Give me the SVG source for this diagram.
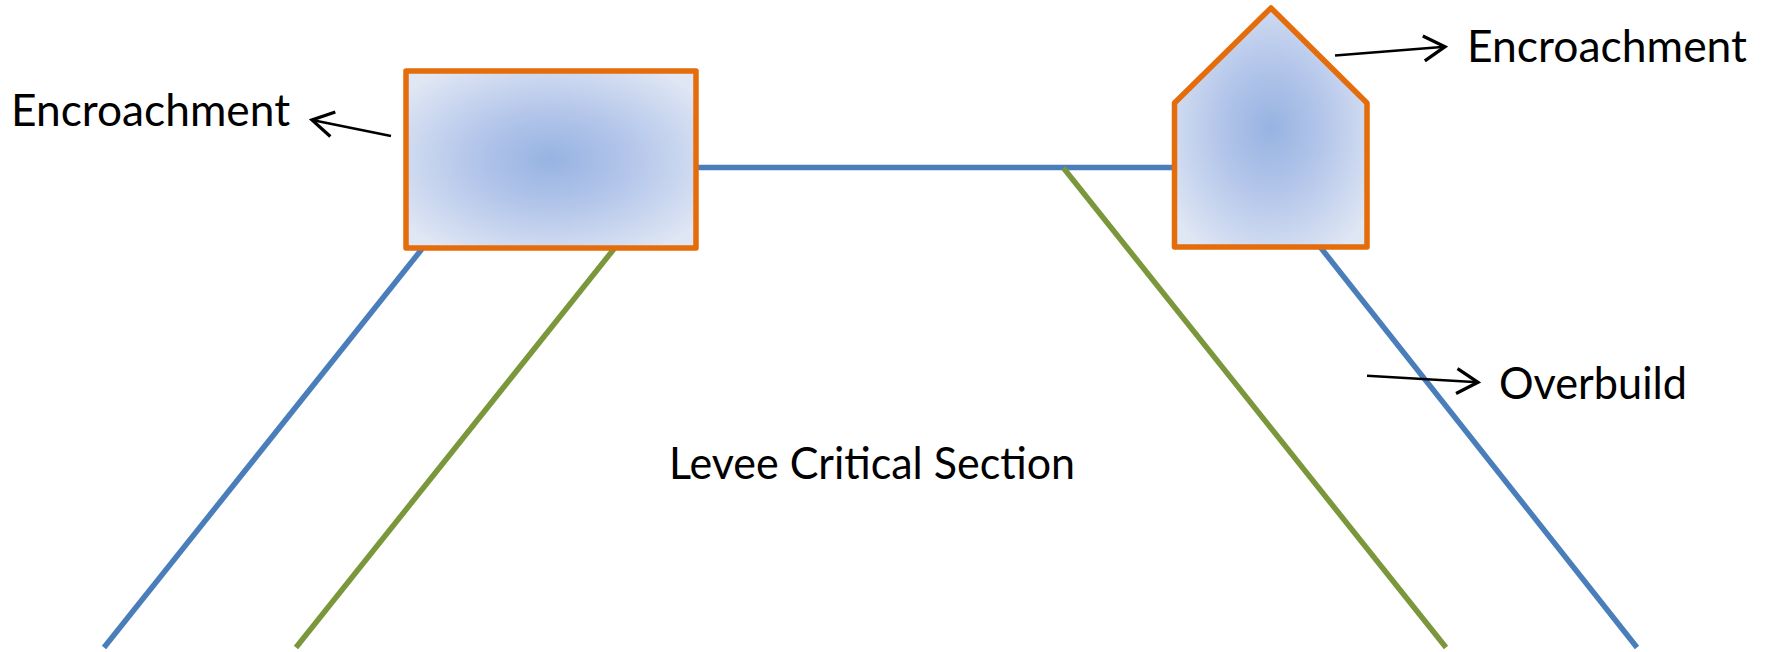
<svg xmlns="http://www.w3.org/2000/svg" width="1774" height="652" viewBox="0 0 1774 652">
  <style>
    .blue { stroke: #4a7ebb; stroke-width: 5.5; fill: none; }
    .green { stroke: #7a973c; stroke-width: 5.5; fill: none; }
    .shape { stroke: #e46c0a; stroke-width: 5.5; stroke-linejoin: round; }
    .arrow { stroke: #000; stroke-width: 2.6; fill: none; marker-end: url(#chev); }
    .label { font-family: Lato, "Open Sans", "Liberation Sans", sans-serif; font-size: 45px; fill: #000; }
  </style>
  <defs>
    <radialGradient id="fillRect" cx="0.5" cy="0.5" r="0.62">
      <stop offset="0" stop-color="#97b3e2"/>
      <stop offset="0.45" stop-color="#b4c6ea"/>
      <stop offset="1" stop-color="#dfe6f4"/>
    </radialGradient>
    <radialGradient id="fillHouse" cx="0.5" cy="0.5" r="0.62">
      <stop offset="0" stop-color="#97b3e2"/>
      <stop offset="0.45" stop-color="#b4c6ea"/>
      <stop offset="1" stop-color="#dfe6f4"/>
    </radialGradient>
    <marker id="chev" markerUnits="userSpaceOnUse" markerWidth="30" markerHeight="30" viewBox="-20 -12 22 24" refX="0" refY="0" orient="auto">
      <path d="M -17 -10 L 0 0 L -17 10" fill="none" stroke="#000" stroke-width="2.6" stroke-linejoin="miter"/>
    </marker>
  </defs>

  <g id="connectors">
    <line class="blue" x1="696" y1="167.5" x2="1176" y2="167.5"/>
    <line class="blue" x1="104" y1="647.5" x2="461" y2="200"/>
    <line class="green" x1="296" y1="647.5" x2="653" y2="200"/>
    <line class="green" x1="1063.5" y1="168" x2="1446" y2="647.5"/>
    <line class="blue" x1="1283" y1="200" x2="1637" y2="647.5"/>
    <line class="arrow" x1="391" y1="136" x2="312" y2="120"/>
    <line class="arrow" x1="1335" y1="55.5" x2="1445" y2="46.7"/>
    <line class="arrow" x1="1367" y1="375.7" x2="1478" y2="382.3"/>
  </g>

  <g id="left-encroachment-box">
    <rect class="shape" x="406" y="71" width="290" height="177" fill="url(#fillRect)"/>
  </g>

  <g id="right-encroachment-house">
    <path class="shape" d="M 1271 8 L 1367 103 L 1367 247 L 1174.5 247 L 1174.5 103 Z" fill="url(#fillHouse)"/>
  </g>

  <g id="labels">
    <text class="label" x="11" y="126" textLength="279" lengthAdjust="spacingAndGlyphs">Encroachment</text>
    <text class="label" x="1467" y="61.5" textLength="280" lengthAdjust="spacingAndGlyphs">Encroachment</text>
    <text class="label" x="1499" y="399" textLength="188" lengthAdjust="spacingAndGlyphs">Overbuild</text>
    <text class="label" x="669" y="479" textLength="406" lengthAdjust="spacingAndGlyphs">Levee Critical Section</text>
  </g>
</svg>
